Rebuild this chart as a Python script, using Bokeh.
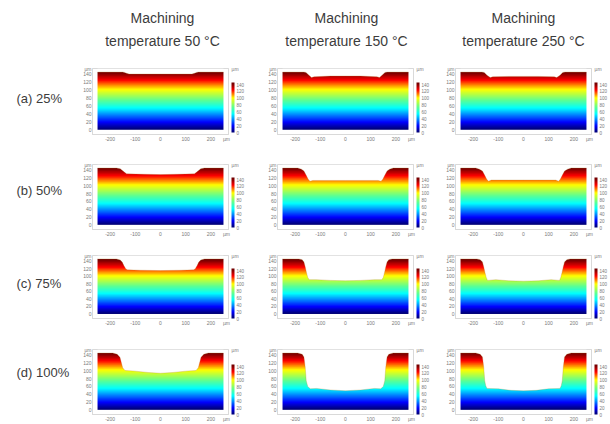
from bokeh.plotting import figure
from bokeh.layouts import column, row
from bokeh.models import LinearColorMapper, ColorBar, FixedTicker, Range1d, AllLabels, LinearAxis
from bokeh.core.properties import value
from bokeh.embed import file_html
from bokeh.resources import INLINE
import numpy as np

col_titles = [["Machining", "temperature 50 °C"], ["Machining", "temperature 150 °C"], ["Machining", "temperature 250 °C"]]
row_labels = ["(a) 25%", "(b) 50%", "(c) 75%", "(d) 100%"]
y_ticks = [0, 20, 40, 60, 80, 100, 120, 140]
x_ticks = [-200, -100, 0, 100, 200]
x_tick_labels = {-200: "-200", -100: "-100", 0: "0", 100: "100", 200: "200"}
unit = "µm"
surface_top = 146

# left half of each machined profile (x in um, height in um), mirrored about x = 0
x_a1 = [-250, -150, -143, -135, -125, -60, 0]
h_a1 = [146, 146, 145, 143, 141, 141, 141]
x_a2 = [-250, -165, -157, -145, -135, -125, -60, 0]
h_a2 = [146, 146, 145, 138, 132, 134, 136, 136]
x_a3 = [-250, -165, -156, -145, -132, -122, -60, 0]
h_a3 = [146, 146, 145, 138, 132, 134, 135, 135]
x_b1 = [-250, -175, -160, -150, -135, -60, 0]
h_b1 = [146, 146, 144, 139, 131, 130, 129]
x_b2 = [-250, -190, -175, -165, -155, -148, -141, -130, -60, 0]
h_b2 = [146, 146, 143, 138, 126, 117, 112, 114, 114, 114]
x_b3 = [-250, -190, -175, -163, -153, -146, -139, -128, -60, 0]
h_b3 = [146, 146, 143, 138, 126, 117, 112, 115, 115, 115]
x_c1 = [-250, -175, -160, -152, -145, -138, -132, -80, 0]
h_c1 = [146, 146, 143, 138, 128, 120, 117, 116, 115]
x_c2 = [-250, -185, -172, -165, -160, -155, -150, -144, -115, -60, 0]
h_c2 = [146, 146, 144, 138, 125, 110, 97, 91, 91, 89, 88]
x_c3 = [-250, -185, -172, -163, -158, -153, -148, -143, -110, -60, 0]
h_c3 = [146, 146, 144, 138, 125, 110, 97, 89, 91, 88, 87]
x_d1 = [-250, -190, -172, -161, -155, -150, -141, -110, -50, 0]
h_d1 = [146, 146, 143, 135, 120, 108, 101, 100, 96, 94]
x_d2 = [-250, -190, -172, -165, -160, -156, -150, -140, -115, -60, 0]
h_d2 = [146, 146, 143, 136, 110, 75, 60, 54, 55, 51, 49]
x_d3 = [-250, -190, -172, -163, -158, -154, -150, -145, -100, -50, 0]
h_d3 = [146, 146, 143, 136, 110, 75, 62, 55, 54, 50, 49]

profiles = [[(x_a1, h_a1), (x_a2, h_a2), (x_a3, h_a3)],
            [(x_b1, h_b1), (x_b2, h_b2), (x_b3, h_b3)],
            [(x_c1, h_c1), (x_c2, h_c2), (x_c3, h_c3)],
            [(x_d1, h_d1), (x_d2, h_d2), (x_d3, h_d3)]]

# jet palette
anchors = [(0.0, (0, 0, 110)), (0.13, (0, 0, 255)), (0.37, (0, 255, 255)), (0.5, (90, 255, 150)),
           (0.69, (255, 255, 0)), (0.85, (255, 0, 0)), (0.97, (125, 0, 0)), (1.0, (110, 0, 0))]
t = np.linspace(0, 1, 256)
chan = [np.interp(t, [a[0] for a in anchors], [a[1][i] for a in anchors]) for i in range(3)]
palette = ["#%02x%02x%02x" % (int(r), int(g), int(b)) for r, g, b in zip(*chan)]
mapper = LinearColorMapper(palette=palette, low=0, high=surface_top)
field = np.tile(np.linspace(0, surface_top, 256)[:, None], (1, 4))

# layout in page pixels
HEADER = 55
LEFT = 75
col_edges = [(LEFT, 262), (262, 443), (443, 610)]
col_frames = [(92, 228), (277, 413), (455, 591)]
row_edges = [(HEADER, 147), (147, 242), (242, 335), (335, 424)]
row_frames = [(68, 134), (164, 229), (255, 318), (349, 414)]
bar_offsets = [2, 2, 0, 0]
title_y = [17, 40]
title_x = [162, 346, 523]
row_label_y = [98, 190, 283, 372]
grid_color = "#d9d9d9"
text_color = "#7a7a7a"
head_color = "#3c3c3c"
FONT = "Liberation Sans"


def text_panel(w, h, xr, yr):
    q = figure(width=w, height=h, output_backend="svg", toolbar_location=None,
               x_range=Range1d(*xr), y_range=Range1d(*yr),
               x_axis_location=None, y_axis_location=None,
               min_border_left=0, min_border_right=0, min_border_top=0, min_border_bottom=0,
               outline_line_color=None)
    q.grid.visible = False
    return q


header = text_panel(610, HEADER, (0, 610), (HEADER, 0))
for tx, lines in zip(title_x, col_titles):
    header.text(x=[tx, tx], y=title_y, text=lines, text_font=value(FONT), text_font_size="14px",
                text_color=head_color, text_align="center", text_baseline="middle")

left = text_panel(LEFT, 424 - HEADER, (0, LEFT), (424, HEADER))
left.text(x=[16] * 4, y=row_label_y, text=row_labels, text_font=value(FONT), text_font_size="13px",
          text_color=head_color, text_align="left", text_baseline="middle")

rows = []
for r in range(4):
    cells = []
    for c in range(3):
        (xl, yl) = profiles[r][c]
        L, R = col_edges[c]
        T, B = row_edges[r]
        fl, fr = col_frames[c]
        ft, fb = row_frames[r]
        p = figure(width=R - L, height=B - T, output_backend="svg", toolbar_location=None,
                   x_range=Range1d(-270, 270), y_range=Range1d(-12, 155),
                   min_border_left=fl - L, min_border_right=R - fr,
                   min_border_top=ft - T, min_border_bottom=B - fb,
                   outline_line_color=grid_color, outline_line_width=1)
        p.grid.visible = False
        p.image(image=[field], x=-250, y=0, dw=500, dh=surface_top, color_mapper=mapper)
        xs = list(xl) + [-v for v in reversed(xl[:-1])]
        hs = list(yl) + list(reversed(yl[:-1]))
        p.varea(x=xs, y1=hs, y2=[155] * len(xs), fill_color="white")
        p.line(x=xs, y=hs, line_color="#b07a20", line_width=0.5, line_alpha=0.5)

        right_axis = LinearAxis()
        p.add_layout(right_axis, "right")
        for ax, ticks in ((p.xaxis[0], x_ticks + [262]), (p.yaxis[0], y_ticks + [153]), (right_axis, [153])):
            ax.ticker = FixedTicker(ticks=ticks)
            ax.major_label_policy = AllLabels()
            ax.major_tick_line_color = None
            ax.minor_tick_line_color = None
            ax.axis_line_color = grid_color
            ax.major_label_text_font = FONT
            ax.major_label_text_font_size = "5px"
            ax.major_label_text_color = text_color
            ax.major_label_standoff = 1
            ax.major_tick_out = 0
            ax.major_tick_in = 0
        p.xaxis[0].major_label_overrides = {**x_tick_labels, 262: unit}
        p.yaxis[0].major_label_overrides = {153: unit}
        right_axis.major_label_overrides = {153: unit}
        right_axis.major_label_standoff = 3

        cb = ColorBar(color_mapper=mapper, width=3, height=50, padding=0, margin=0,
                      location=(fr - fl + 3, bar_offsets[r]),
                      ticker=FixedTicker(ticks=y_ticks), major_tick_line_color=None,
                      major_label_policy=AllLabels(),
                      major_label_text_font=FONT, major_label_text_font_size="4.5px",
                      major_label_text_color=text_color, label_standoff=2,
                      bar_line_color=None, border_line_color=None, background_fill_color=None)
        p.add_layout(cb, "center")
        cells.append(p)
    rows.append(row(*cells, spacing=0))

page = column(header, row(left, column(*rows, spacing=0), spacing=0), spacing=0)
open("out.html", "w").write(file_html(page, INLINE))
